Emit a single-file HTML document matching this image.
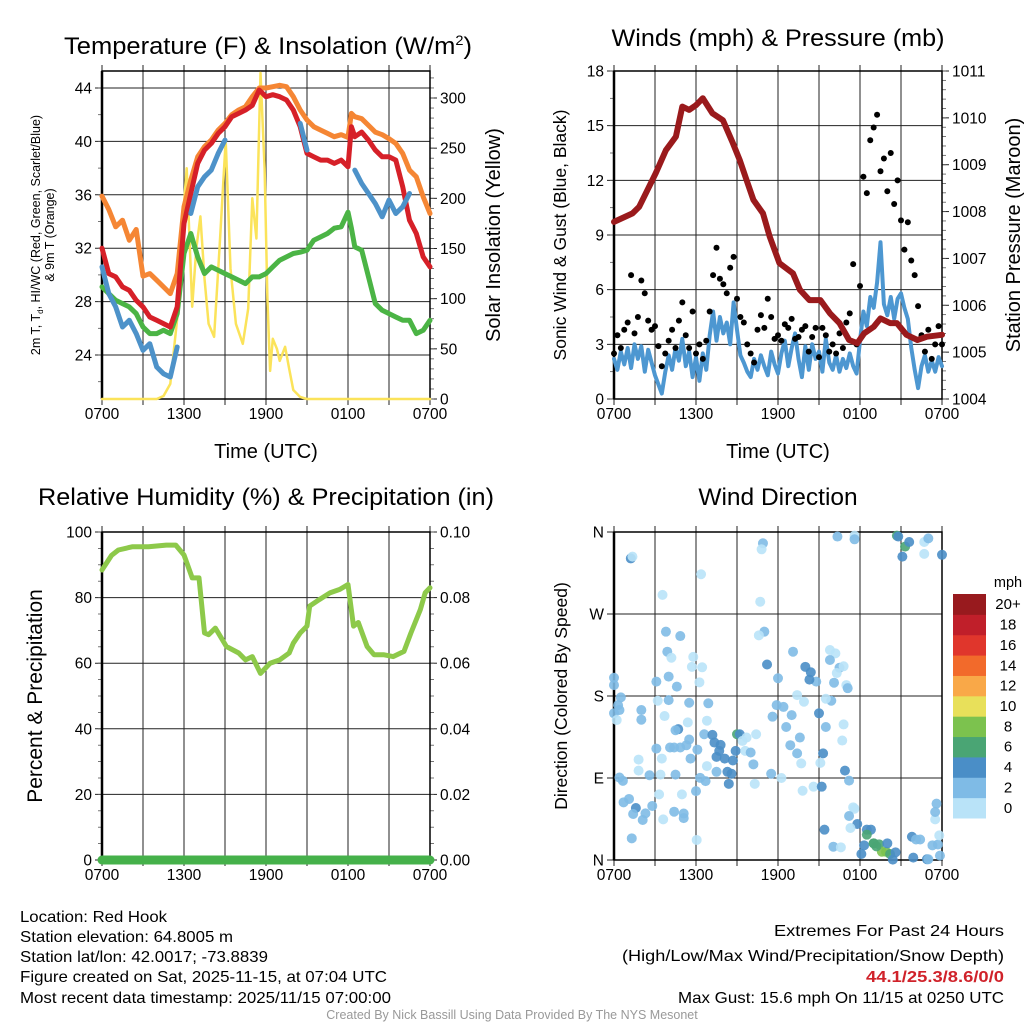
<!DOCTYPE html>
<html><head><meta charset="utf-8">
<style>
html,body{margin:0;padding:0;background:#fff;}
svg{display:block;font-family:"Liberation Sans",sans-serif;}
</style></head>
<body>
<svg id="fig" width="1024" height="1024" viewBox="0 0 1024 1024" xmlns="http://www.w3.org/2000/svg">
<rect width="1024" height="1024" fill="#fff"/>
<g id="static">
<text x="268" y="54" font-size="24.5" text-anchor="middle" textLength="408" lengthAdjust="spacingAndGlyphs">Temperature (F) &amp; Insolation (W/m<tspan font-size="14" dy="-9">2</tspan><tspan dy="9">)</tspan></text>
<text x="778" y="46" font-size="24.5" text-anchor="middle" textLength="333" lengthAdjust="spacingAndGlyphs">Winds (mph) &amp; Pressure (mb)</text>
<text x="266" y="505" font-size="24.5" text-anchor="middle" textLength="456" lengthAdjust="spacingAndGlyphs">Relative Humidity (%) &amp; Precipitation (in)</text>
<text x="778" y="505" font-size="24.5" text-anchor="middle">Wind Direction</text>
<text x="266" y="458" font-size="20" text-anchor="middle">Time (UTC)</text>
<text x="778" y="458" font-size="20" text-anchor="middle">Time (UTC)</text>
<text transform="translate(40,235) rotate(-90)" font-size="12.5" text-anchor="middle">2m T, T<tspan font-size="8" dy="3">d</tspan><tspan dy="-3">, HI/WC (Red, Green, Scarlet/Blue)</tspan></text>
<text transform="translate(54,235) rotate(-90)" font-size="12.5" text-anchor="middle">&amp; 9m T (Orange)</text>
<text transform="translate(500,235) rotate(-90)" font-size="20" text-anchor="middle">Solar Insolation (Yellow)</text>
<text transform="translate(566,235) rotate(-90)" font-size="17.5" text-anchor="middle">Sonic Wind &amp; Gust (Blue, Black)</text>
<text transform="translate(1020,235) rotate(-90)" font-size="20" text-anchor="middle">Station Pressure (Maroon)</text>
<text transform="translate(42,696) rotate(-90)" font-size="21" text-anchor="middle">Percent &amp; Precipitation</text>
<text transform="translate(567,696) rotate(-90)" font-size="17.5" text-anchor="middle">Direction (Colored By Speed)</text>
<g font-size="16">
<text x="20" y="922" textLength="147" lengthAdjust="spacingAndGlyphs">Location: Red Hook</text>
<text x="20" y="942" textLength="213" lengthAdjust="spacingAndGlyphs">Station elevation: 64.8005 m</text>
<text x="20" y="962" textLength="248" lengthAdjust="spacingAndGlyphs">Station lat/lon: 42.0017; -73.8839</text>
<text x="20" y="982" textLength="367" lengthAdjust="spacingAndGlyphs">Figure created on Sat, 2025-11-15, at 07:04 UTC</text>
<text x="20" y="1003" textLength="371" lengthAdjust="spacingAndGlyphs">Most recent data timestamp: 2025/11/15 07:00:00</text>
<text x="1004" y="936" text-anchor="end" textLength="230" lengthAdjust="spacingAndGlyphs">Extremes For Past 24 Hours</text>
<text x="1004" y="961" text-anchor="end" textLength="382" lengthAdjust="spacingAndGlyphs">(High/Low/Max Wind/Precipitation/Snow Depth)</text>
<text x="1004" y="982" text-anchor="end" fill="#d0222a" font-weight="bold" textLength="138" lengthAdjust="spacingAndGlyphs">44.1/25.3/8.6/0/0</text>
<text x="1004" y="1003" text-anchor="end" textLength="326" lengthAdjust="spacingAndGlyphs">Max Gust: 15.6 mph On 11/15 at 0250 UTC</text>
</g>
<text x="512" y="1019" font-size="12.5" fill="#999" text-anchor="middle">Created By Nick Bassill Using Data Provided By The NYS Mesonet</text>
</g>
</svg>
<script>
// ---------- data ----------
const halfHours = [0,0.5,1,1.5,2,2.5,3,3.5,4,4.5,5,5.5,6,6.5,7,7.5,8,8.5,9,9.5,10,10.5,11,11.5,12,12.5,13,13.5,14,14.5,15,15.5,16,16.5,17,17.5,18,18.25,18.5,19,19.5,20,20.5,21,21.5,22,22.5,23,23.5,24];
const temp9m = [35.9,34.9,33.6,34.1,32.6,33.4,29.9,30.1,29.6,29.1,28.6,30.1,35.1,37.1,38.85,39.6,40.1,40.85,41.35,42,42.35,42.6,43.35,44,44,44.1,44.2,44.1,43.35,42.35,41.6,41.1,40.85,40.6,40.35,40.5,40.3,42.1,41.85,41.7,41.2,40.7,40.5,40.2,39.85,39.1,37.85,37.35,35.85,34.6];
const temp2m = [32,30.1,29.85,29.1,28.85,28.1,27.6,26.85,26.6,26.35,26.1,27.6,33.85,36.1,38.35,39.35,39.85,40.6,41.1,41.85,42.1,42.35,42.7,43.85,43.35,43.5,43.35,43.1,42.35,41.1,39.1,38.85,38.6,38.6,38.35,38.6,38.1,41.1,40.35,40.7,40.1,39.35,38.85,38.85,38.6,36.6,34.1,33.1,31.35,30.6];
const heatWindChill = [30.6,28.6,27.6,26.1,26.6,25.6,24.35,24.85,23.1,22.6,22.35,24.6,null,34.6,36.6,37.35,37.85,39.1,40.1,null,null,null,null,null,null,null,null,null,null,41.35,39.35,null,37.6,null,null,null,36.35,null,37.85,36.85,36.1,35.35,34.35,35.6,34.6,35.1,36.1,null,31.85,null];
const dewPoint = [29.1,28.6,28.1,27.85,27.6,27.1,26.1,25.6,25.6,25.85,25.6,27.1,31.6,33.1,31.35,30.1,30.6,30.35,30.1,29.85,29.6,29.35,29.85,29.85,30.1,30.6,31.1,31.35,31.6,31.7,31.85,32.6,32.85,33.1,33.5,33.6,34.7,33.5,32.1,31.85,29.85,27.85,27.35,27.1,26.85,26.6,26.6,25.6,25.85,26.6];
const solarTimes = [0,4,4.5,5,5.5,5.8,6.2,6.4,6.6,6.9,7.2,7.5,7.8,8.2,8.6,9.05,9.4,9.8,10.3,10.7,11.0,11.3,11.6,11.9,12.1,12.3,12.5,12.8,13.0,13.4,13.7,14.0,14.5,15,24];
const solarValues = [0,0,3,15,80,160,230,160,92,150,182,120,75,62,150,258,130,75,55,90,200,160,325,230,100,28,60,50,38,52,30,9,2,0,0];
const tempTicks = [24,28,32,36,40,44];
const solarTicks = [0,50,100,150,200,250,300];
const timeTickLabels = ["0700","1300","1900","0100","0700"];

const quarterHours = []; for (let i=0;i<=96;i++) quarterHours.push(i*0.25);
const sonicWind = [2.2,1.6,2.6,1.9,2.8,1.7,3.0,2.2, 2.9,1.5,2.7,2.0,1.3,0.8,0.3,1.5, 2.4,1.6,2.8,2.1,3.3,1.8,2.6,1.2, 2.3,1.0,2.5,1.6,3.5,4.8,3.2,4.5, 3.6,4.2,3.0,5.3,3.8,2.4,2.0,1.5, 1.2,2.2,1.6,2.4,1.8,1.3,2.6,1.9, 1.4,2.5,3.2,1.8,2.8,3.6,2.2,1.2, 2.9,1.6,3.0,2.2,2.6,1.5,3.3,2.0, 1.6,2.4,1.5,2.2,1.7,2.5,1.8,1.4, 3.2,4.8,4.0,5.6,5.0,6.4,8.6,5.2, 4.6,5.6,4.4,5.5,5.8,5.0,4.4,2.8, 1.6,0.6,1.8,2.4,1.5,2.1,1.5,2.3, 1.8];
const gustValues = [2.5,3.5,2.8,3.8,4.2,6.8,3.6,4.5, 6.5,5.8,4.3,3.8,4.0,2.9,1.8,2.5, 3.2,3.8,2.8,4.3,5.3,3.5,2.8,4.8, 2.5,3.0,2.2,3.2,4.8,6.8,8.3,6.6, 6.3,5.8,7.2,7.8,5.5,4.5,4.2,3.0, 2.5,2.0,3.8,4.6,3.9,5.5,4.5,3.3, 3.5,3.2,4.1,3.9,4.4,3.3,3.4,3.8, 4.0,2.6,3.4,3.9,2.3,3.9,3.5,2.6, 3.0,2.5,3.6,2.8,4.2,4.7,7.4,3.0, 6.2,12.2,11.3,14.2,14.9,15.6,12.5,13.2, 11.4,13.5,10.7,12.0,9.8,8.2,9.7,7.6, 6.8,5.1,3.5,2.6,3.8,2.2,3.0,4.0, 3.0];
const pressureTimes = [0,1.35,1.84,2.57,3.06,3.8,4.53,5.0,5.5,6.0,6.5,7.2,7.97,8.7,9.2,9.7,10.2,10.9,11.4,12.1,13.1,13.6,14.3,15.1,15.8,16.5,17.2,17.8,18.3,19.0,19.5,20.2,20.7,21.4,22.2,22.9,24];
const pressureValues = [1007.78,1007.96,1008.10,1008.53,1008.82,1009.31,1009.60,1010.24,1010.17,1010.27,1010.42,1010.10,1009.95,1009.46,1009.10,1008.67,1008.25,1007.96,1007.46,1006.90,1006.68,1006.33,1006.11,1006.11,1005.83,1005.62,1005.26,1005.19,1005.40,1005.54,1005.72,1005.62,1005.62,1005.37,1005.26,1005.33,1005.37];
const windTicks = [0,3,6,9,12,15,18];
const pressureTicks = [1004,1005,1006,1007,1008,1009,1010,1011];

const rhTimes = [0,0.7,1.2,2.2,3.4,4.7,5.4,6.0,6.6,7.1,7.5,7.8,8.3,9.1,10.0,10.5,11.0,11.6,12.3,13.0,13.7,14.0,14.5,15.0,15.2,15.9,16.7,17.4,18.0,18.4,18.75,19.4,19.9,20.6,21.3,22.1,22.6,23.3,23.65,24];
const rhValues = [88.4,92.9,94.5,95.5,95.5,96,96,93,86,86,69.2,68.7,70.7,65.1,63.1,61,62,56.9,60,61,63.1,66.1,69.2,71.3,77.4,79.4,81.5,82.5,84,71.3,72.4,65.1,62.6,62.6,62,63.6,69.2,76.4,81.5,83];
const precipTimes = [0,24];
const precipValues = [0,0];
const rhTicks = [0,20,40,60,80,100];
const precipTicks = ["0.00","0.02","0.04","0.06","0.08","0.10"];

const dirTimes = [1.23,1.35,3.55,6.37,10.9,10.8,10.7,16.35,17.6,17.6,20.7,20.8,21.3,21.6,21.1,22.7,23.0,22.7,24,3.8,4.85,3.9,4.2,5.8,6.45,5.7,4.0,3.1,4.6,6.25,0,0,0.5,0.3,0.4,0,0.2,2,2,3.2,4.0,3.7,5.5,5.4,6.9,6.8,4.7,4.5,3.1,4.1,4.4,4.85,5.3,5.5,3.5,1.8,1.8,3.4,2.6,4.5,6.1,5.6,6.6,7.2,7.35,7.8,7.7,7.5,8.1,8.7,8.3,8.6,8.4,7.5,6.8,8.9,9.0,9.2,9.4,9.7,9.6,10.0,10.2,10.4,10.3,6.3,6.7,6.0,3.3,4.97,5.1,5.1,4.4,3.6,2.8,2.3,2.1,1.6,1.4,1.1,0.7,0.65,0.4,1.3,6.05,11.5,12.25,11.6,12.0,11.9,12.4,12.6,13.0,13.4,13.9,13.6,12.9,13.4,13.7,14.6,13.8,15.2,15.3,15.1,15.5,15.0,14.8,14.3,14.4,14.0,13.1,11.2,11.0,10.6,15.8,16.2,15.8,16.5,16.8,16.3,16.1,17.0,17.1,15.9,15.5,16.8,16.7,16.9,17.2,17.5,17.6,17.2,17.8,17.3,18.5,18.8,18.5,18.3,18.1,19.0,19.4,19.6,19.9,20.0,20.2,20.4,20.6,19.0,19.2,16.05,16.6,15.4,21.8,22.1,22.4,21.9,22.9,23.0,23.3,23.85,23.7,23.5,23.5,23.6,23.8];
const dirDegrees = [331,333,291,313.6,347.6,341,283.5,355,356,352,356,355,344,349,333,349,353,336,335,250.6,245.8,228.6,222,222.9,211.5,212,201.3,195.8,190.3,195,200,192,178.5,170,164.6,161,153.6,164.6,154,174.8,175.5,158,172.6,151,172,152.9,143.6,142.4,122.3,123.5,123.5,123.5,126,132.2,111.3,110.2,98.1,93.7,93,93.7,121.1,111.3,138,137.3,128.9,126.3,119.8,113.2,111.3,109.2,96.8,94.6,83.6,96.8,103.1,119.8,138,138,130.7,134.4,119.8,118,105,138,83.6,90.2,86.6,75.6,72,72,51,46,53,44.6,59.3,51.2,43.9,57.1,50.5,67,63.3,86.9,90.5,23.8,22,94.6,90,157.3,199.5,170,168,146,159,181,173.7,134.4,126,117,106,80.5,76,80.5,117,106.6,146,161,195.8,198,206,212,228.6,214.6,250.6,246.6,230.5,226.8,219.5,211,212.6,205.2,194.6,192,188.6,174.8,177,148.8,131.1,98.1,87.1,57.8,56.3,48.3,39.5,35.1,33.3,33.3,27.8,16.1,6.6,18.3,17.2,9.1,9.1,18.3,6.6,0.4,8.4,18.3,15,14.6,13.9,33.3,25.5,22.5,22.5,2.6,0.8,0.8,16.1,4.8,17,44.6,52.7,61.9,27];
const dirSpeeds = [5,1,1,1,3,1,1,3,1,3,7,5,7,5,5,1,3,1,5,3,3,3,1,1,1,1,3,3,3,1,3,3,3,3,3,3,1,3,3,1,3,1,3,1,3,1,5,3,3,3,3,3,3,3,1,1,1,1,3,3,3,3,3,5,5,5,5,5,5,5,5,5,5,3,1,5,7,5,1,1,1,3,3,1,1,3,3,3,1,1,3,3,3,1,3,3,3,5,3,3,3,3,3,3,1,3,1,3,3,3,3,3,3,1,1,3,3,3,1,1,1,5,5,1,3,5,3,5,5,5,3,5,3,1,1,1,3,3,1,1,3,1,3,3,1,1,1,5,3,1,1,3,5,1,5,5,7,5,5,7,7,9,9,5,7,5,5,7,7,3,1,5,5,3,3,5,5,3,3,3,3,1,3,3,1];
const dirTickLabels = ["N","E","S","W","N"];
const speedBins = ["0","2","4","6","8","10","12","14","16","18","20+"];
const speedColors = ["#b9e3f8","#7fbbe6","#4a8ec7","#4aa574","#7cc24e","#e8e05a","#f9a848","#f26a2b","#e0362c","#c01f2a","#981a1e"];

// ---------- helpers ----------
const NS = "http://www.w3.org/2000/svg";
const svg = document.getElementById("fig");
function mk(tag, attrs, parent) {
  const e = document.createElementNS(NS, tag);
  for (const k in attrs) e.setAttribute(k, attrs[k]);
  (parent || svg).appendChild(e);
  return e;
}
function linear(d0, d1, r0, r1) { return v => r0 + (v - d0) * (r1 - r0) / (d1 - d0); }
function pathFrom(xs, ys, fx, fy) {
  let d = "", pen = false;
  for (let i = 0; i < xs.length; i++) {
    if (ys[i] === null || ys[i] === undefined) { pen = false; continue; }
    d += (pen ? "L" : "M") + fx(xs[i]).toFixed(1) + "," + fy(ys[i]).toFixed(1);
    pen = true;
  }
  return d;
}

function frame(L, T, R, B, name, leftVals, leftFy, leftFmt, rightVals, rightFy, rightFmt, leftMinor, rightMinor) {
  const g = mk("g", {});
  
  
  const fx = linear(0, 24, L, R);
  for (let h = 0; h <= 24; h += 3) {
    const x = fx(h);
    const ln = mk("line", {x1:x, y1:T, x2:x, y2:B + 6, stroke:"#222", "stroke-width":1}, g);
    
    
    mk("line", {x1:x, y1:T, x2:x, y2:T - 6, stroke:"#222", "stroke-width":1}, g);
  }
  timeTickLabels.forEach((lab, i) => {
    const t = mk("text", {x: fx(i * 6), y: B + 20, "font-size": 15.5, "text-anchor": "middle"}, g);
    
    
    t.textContent = lab;
  });
  leftVals.forEach((v, i) => {
    const y = leftFy(v);
    const ln = mk("line", {x1:L - 7, y1:y, x2:R, y2:y, stroke:"#222", "stroke-width":1}, g);
    
    
    const t = mk("text", {x: L - 10, y: y + 5.5, "font-size": 15.5, "text-anchor": "end"}, g);
    
    
    t.textContent = leftFmt(v, i);
  });
  leftMinor.forEach(v => mk("line", {x1:L - 4, y1:leftFy(v), x2:L, y2:leftFy(v), stroke:"#555", "stroke-width":0.8}, g));
  rightVals.forEach((v, i) => {
    const y = rightFy(v);
    mk("line", {x1:R, y1:y, x2:R + 7, y2:y, stroke:"#222", "stroke-width":1}, g);
    const t = mk("text", {x: R + 10, y: y + 5.5, "font-size": 15.5, "text-anchor": "start"}, g);
    
    
    t.textContent = rightFmt(v, i);
  });
  rightMinor.forEach(v => mk("line", {x1:R, y1:rightFy(v), x2:R + 4, y2:rightFy(v), stroke:"#555", "stroke-width":0.8}, g));
  const box = mk("rect", {x:L, y:T, width:R - L, height:B - T, fill:"none", stroke:"#000", "stroke-width":1.5}, g);
  
  
  mk("line", {x1:L, y1:T, x2:L, y2:B, stroke:"#000", "stroke-width":2.5}, g);
  return fx;
}
function seq(a, b, s) { const r = []; for (let v = a; v <= b + 1e-9; v += s) r.push(+v.toFixed(4)); return r; }
function line(fx, fy, xs, ys, color, w, name) {
  const p = mk("path", {d: pathFrom(xs, ys, fx, fy), fill:"none", stroke:color, "stroke-width":w, "stroke-linejoin":"round", "stroke-linecap":"round"});
  
  
  return p;
}

// ---------- panel 1: temperature ----------
{
  const L=102,T=71,R=430,B=399;
  const fyT = linear(44, 24, 88, 355);
  const fyS = linear(0, 300, 399, 98);
  const fx = frame(L,T,R,B,"temperature",tempTicks,fyT,v=>v,solarTicks,fyS,v=>v,seq(22,44,2),seq(0,320,10));
  line(fx, fyS, solarTimes, solarValues, "#fbe35a", 2.5, "solar-insolation-line");
  line(fx, fyT, halfHours, temp9m, "#f58634", 5, "temp-9m-line");
  line(fx, fyT, halfHours, dewPoint, "#4bb445", 5, "dewpoint-line");
  line(fx, fyT, halfHours, temp2m, "#d62028", 5, "temp-2m-line");
  line(fx, fyT, halfHours, heatWindChill, "#4d92c9", 5, "heat-index-windchill-line");
}
// ---------- panel 2: winds ----------
{
  const L=614,T=71,R=942,B=399;
  const fyW = linear(0, 18, 399, 71);
  const fyP = linear(1004, 1011, 399, 71);
  const fx = frame(L,T,R,B,"wind",windTicks,fyW,v=>v,pressureTicks,fyP,v=>v,seq(0,18,1.5),seq(1004,1011,0.2));
  line(fx, fyW, quarterHours, sonicWind, "#4d97d1", 4, "sonic-wind-line");
  gustValues.forEach((v, i) => {
    const c = mk("circle", {cx: fx(quarterHours[i]), cy: fyW(v), r: 3, fill: "#000"});
    
    
  });
  line(fx, fyP, pressureTimes, pressureValues, "#9a1a1c", 6, "pressure-line");
}
// ---------- panel 3: RH ----------
{
  const L=102,T=532,R=430,B=860;
  const fyR = linear(0, 100, 860, 532);
  const fyP = linear(0, 0.10, 860, 532);
  const fx = frame(L,T,R,B,"humidity",rhTicks,fyR,v=>v,[0,0.02,0.04,0.06,0.08,0.10],fyP,(v,i)=>precipTicks[i],seq(0,100,5),seq(0,0.1,0.005));
  line(fx, fyR, rhTimes, rhValues, "#8dc94a", 5, "relative-humidity-line");
  line(fx, fyP, precipTimes, precipValues, "#45b14a", 9, "precipitation-line");
}
// ---------- panel 4: wind direction ----------
{
  const L=614,T=532,R=942,B=860;
  const fyD = linear(0, 360, 860, 532);
  const fx = frame(L,T,R,B,"direction",[0,90,180,270,360],fyD,(v,i)=>dirTickLabels[i],[],fyD,v=>v,[],[]);
  dirTimes.forEach((t, i) => {
    const bin = Math.min(10, Math.floor(dirSpeeds[i] / 2));
    const c = mk("circle", {cx: fx(t), cy: fyD(dirDegrees[i]), r: 5, fill: speedColors[bin], "fill-opacity": 0.9});
    
    
  });
  const cb = mk("g", {});
  
  
  const top = 594, bot = 818, h = (bot - top) / speedBins.length;
  const lt = mk("text", {x: 1008, y: 587, "font-size": 14.5, "text-anchor": "middle"}, cb);
  
  
  lt.textContent = "mph";
  speedBins.forEach((lab, i) => {
    const y = bot - (i + 1) * h;
    const r = mk("rect", {x: 953, y: y, width: 33, height: h + 0.5, fill: speedColors[i]}, cb);
    
    
    const t = mk("text", {x: 1008, y: y + h / 2 + 5, "font-size": 15, "text-anchor": "middle"}, cb);
    
    
    t.textContent = lab;
  });
}
</script>
</body></html>
